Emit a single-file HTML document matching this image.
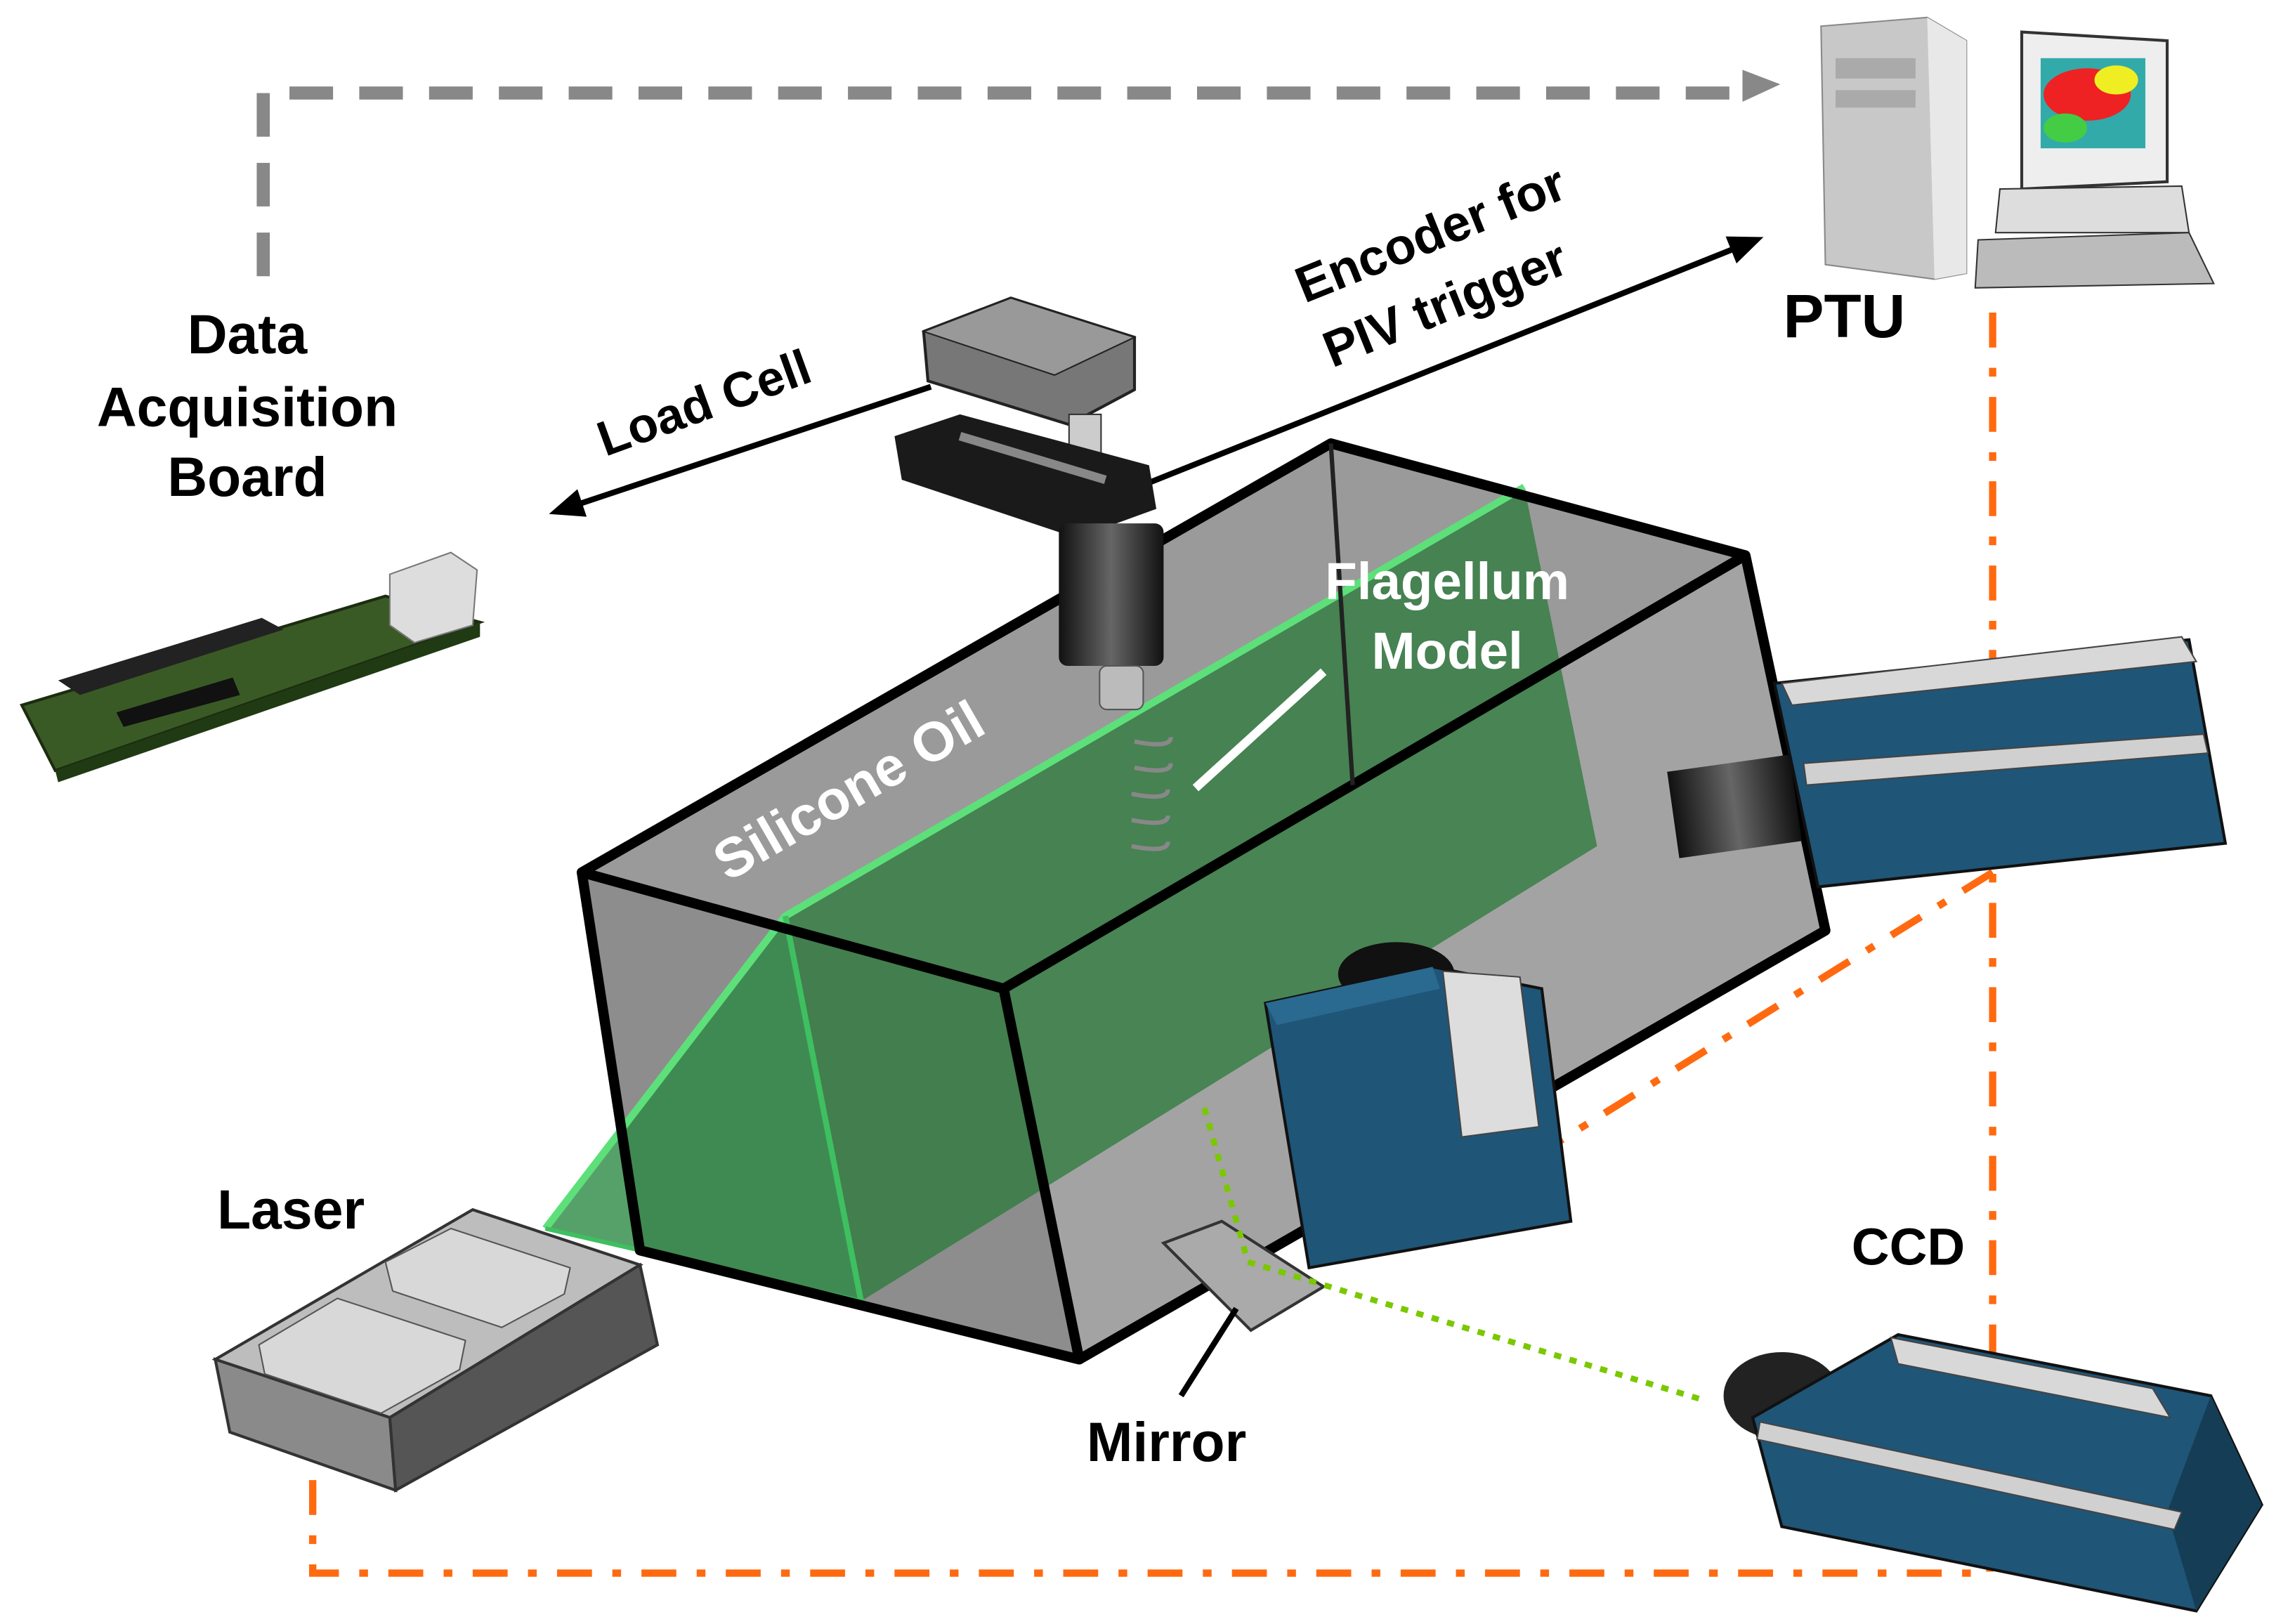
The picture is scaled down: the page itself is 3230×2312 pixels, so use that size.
<!DOCTYPE html>
<html><head><meta charset="utf-8"><style>
html,body{margin:0;padding:0;background:#fff;}
svg{display:block;}
text{font-family:"Liberation Sans",Arial,sans-serif;font-weight:bold;}
</style></head><body>
<svg width="3230" height="2312" viewBox="0 0 1560 1117" preserveAspectRatio="none" xmlns="http://www.w3.org/2000/svg">
<defs>
<marker id="ah" markerWidth="6" markerHeight="5" refX="4" refY="2.5" orient="auto" markerUnits="strokeWidth"><path d="M0,0 L6,2.5 L0,5 Z" fill="#000"/></marker>
<linearGradient id="cyl" x1="0" x2="1"><stop offset="0" stop-color="#111"/><stop offset=".5" stop-color="#666"/><stop offset="1" stop-color="#111"/></linearGradient>
</defs>

<path d="M181,190 V64 H1205" fill="none" stroke="#888" stroke-width="9" stroke-dasharray="30,18"/>
<path d="M1198,48 L1224,58 L1198,70 Z" fill="#888"/>

<g fill="none" stroke="#ff6a10" stroke-width="5" stroke-dasharray="24,14,6,14">
<path d="M1370,215 V935"/>
<path d="M1370,600 L1072,785"/>
<path d="M215,1018 V1082 H1368 V1045"/>
</g>

<text x="170" y="243" font-size="38" text-anchor="middle">Data</text>
<text x="170" y="293" font-size="38" text-anchor="middle">Acquisition</text>
<text x="170" y="341" font-size="38" text-anchor="middle">Board</text>

<polygon points="15,485 265,410 330,428 38,530" fill="#3a5a25" stroke="#1c2c10" stroke-width="2"/>
<polygon points="38,530 330,428 330,438 40,538" fill="#203a14"/>
<polygon points="40,468 180,425 195,433 55,478" fill="#222"/>
<polygon points="268,395 310,380 328,392 325,430 285,442 268,430" fill="#ddd" stroke="#777"/>
<polygon points="80,490 160,466 165,478 85,500" fill="#111"/>

<line x1="640" y1="266" x2="385" y2="351" stroke="#000" stroke-width="4" marker-end="url(#ah)"/>
<text x="488" y="288" font-size="34" text-anchor="middle" transform="rotate(-20 488 288)">Load Cell</text>
<line x1="790" y1="332" x2="1205" y2="166" stroke="#000" stroke-width="4" marker-end="url(#ah)"/>
<text x="988" y="172" font-size="35" text-anchor="middle" transform="rotate(-22 988 172)">Encoder for</text>
<text x="998" y="220" font-size="35" text-anchor="middle" transform="rotate(-22 998 220)">PIV trigger</text>

<polygon points="1252,18 1325,12 1352,28 1352,188 1330,192 1255,182" fill="#c8c8c8" stroke="#888"/>
<polygon points="1325,12 1352,28 1352,188 1330,192" fill="#e8e8e8"/>
<rect x="1262" y="40" width="55" height="14" fill="#aaa"/>
<rect x="1262" y="62" width="55" height="12" fill="#aaa"/>
<polygon points="1390,22 1490,28 1490,125 1390,130" fill="#eee" stroke="#333" stroke-width="2"/>
<rect x="1403" y="40" width="72" height="62" fill="#3aa"/>
<ellipse cx="1435" cy="65" rx="30" ry="18" fill="#e22"/><ellipse cx="1420" cy="88" rx="15" ry="10" fill="#4c4"/><ellipse cx="1455" cy="55" rx="15" ry="10" fill="#ee2"/>
<polygon points="1375,130 1500,128 1505,160 1372,160" fill="#ddd" stroke="#333"/>
<polygon points="1360,165 1505,160 1522,195 1358,198" fill="#bbb" stroke="#333"/>
<text x="1268" y="232" font-size="42" text-anchor="middle">PTU</text>

<polygon points="400,600 915,305 1200,382 690,680" fill="#9a9a9a"/>
<polygon points="400,600 690,680 742,935 440,860" fill="#8d8d8d"/>
<polygon points="690,680 1200,382 1255,640 742,935" fill="#a3a3a3"/>
<polygon points="540,630 1048,335 1098,582 592,895" fill="#2a7a3a" opacity=".75"/>
<polygon points="375,845 540,630 592,895" fill="#2c8a44" opacity=".8"/>
<polyline points="375,845 540,630 1048,335" fill="none" stroke="#5de07a" stroke-width="5"/>
<line x1="540" y1="630" x2="592" y2="895" stroke="#3ec060" stroke-width="4"/>
<line x1="375" y1="845" x2="592" y2="895" stroke="#3ec060" stroke-width="3"/>
<g stroke="#000" stroke-width="7" fill="none" stroke-linejoin="round">
<polygon points="400,600 915,305 1200,382 690,680"/>
<polyline points="400,600 440,860 742,935 1255,640 1200,382"/>
<line x1="690" y1="680" x2="742" y2="935"/>
</g>
<g stroke="#222" stroke-width="3" fill="none"><line x1="915" y1="305" x2="930" y2="540"/></g>

<polygon points="635,228 695,205 780,232 780,268 735,292 638,262" fill="#777" stroke="#222" stroke-width="2"/>
<polygon points="635,228 695,205 780,232 725,258" fill="#999" stroke="#222"/>
<rect x="735" y="285" width="22" height="40" fill="#ccc" stroke="#333"/>
<path d="M615,300 L660,285 L790,320 L795,350 L740,370 L620,330 Z" fill="#1a1a1a"/>
<path d="M660,300 L760,330" stroke="#888" stroke-width="6"/>
<rect x="728" y="360" width="72" height="98" rx="6" fill="url(#cyl)"/>
<rect x="756" y="458" width="30" height="30" rx="5" fill="#bbb" stroke="#555"/>
<g fill="none" stroke="#888" stroke-width="3">
<path d="M780,510 q25,5 25,-3"/><path d="M780,528 q25,5 25,-3"/><path d="M778,546 q25,5 25,-3"/><path d="M778,564 q25,5 25,-3"/><path d="M778,582 q25,5 25,-3"/>
</g>
<line x1="822" y1="542" x2="910" y2="462" stroke="#fff" stroke-width="6"/>
<text x="995" y="412" font-size="36" fill="#fff" text-anchor="middle">Flagellum</text>
<text x="995" y="460" font-size="36" fill="#fff" text-anchor="middle">Model</text>
<text x="590" y="555" font-size="38" fill="#fff" text-anchor="middle" transform="rotate(-30 590 555)">Silicone Oil</text>

<rect x="1150" y="525" width="85" height="60" fill="url(#cyl)" transform="rotate(-8 1190 555)"/>
<polygon points="1220,470 1505,440 1530,580 1250,610" fill="#1f5577" stroke="#111" stroke-width="2"/>
<polygon points="1225,470 1500,438 1510,455 1232,485" fill="#d8d8d8" stroke="#444"/>
<polygon points="1240,525 1515,505 1518,518 1242,540" fill="#d0d0d0" stroke="#444"/>
<ellipse cx="960" cy="670" rx="40" ry="22" fill="#111"/>
<polygon points="870,690 985,665 1060,680 1080,840 900,872" fill="#1f5577" stroke="#111" stroke-width="2"/>
<polygon points="992,668 1045,672 1058,775 1005,782" fill="#ddd" stroke="#444"/>
<polygon points="870,690 985,665 990,680 878,705" fill="#2a6a90"/>

<polygon points="800,855 840,840 910,885 860,915" fill="#aaa" stroke="#333" stroke-width="2"/>
<g stroke="#7ac800" stroke-width="4" stroke-dasharray="5,6" fill="none">
<line x1="828" y1="762" x2="858" y2="868"/>
<line x1="858" y1="868" x2="1168" y2="962"/>
</g>
<line x1="850" y1="900" x2="812" y2="960" stroke="#000" stroke-width="4"/>
<text x="802" y="1005" font-size="38" text-anchor="middle">Mirror</text>

<ellipse cx="1225" cy="960" rx="40" ry="30" fill="#222"/>
<polygon points="1205,975 1305,918 1520,960 1555,1035 1510,1108 1225,1050" fill="#1f5577" stroke="#111" stroke-width="2"/>
<polygon points="1490,1040 1520,960 1555,1035 1510,1108" fill="#153d55"/>
<polygon points="1300,920 1480,955 1492,975 1305,938" fill="#d8d8d8" stroke="#444"/>
<polygon points="1210,978 1500,1040 1495,1052 1208,990" fill="#d0d0d0" stroke="#444"/>
<text x="1312" y="870" font-size="36" text-anchor="middle">CCD</text>

<text x="200" y="845" font-size="38" text-anchor="middle">Laser</text>
<polygon points="148,935 325,832 440,870 268,975" fill="#bdbdbd" stroke="#333" stroke-width="2"/>
<polygon points="148,935 268,975 272,1025 158,985" fill="#8a8a8a" stroke="#333" stroke-width="2"/>
<polygon points="268,975 440,870 452,925 272,1025" fill="#555" stroke="#333" stroke-width="2"/>
<polygon points="265,868 310,845 392,872 388,890 345,913 270,888" fill="#d8d8d8" stroke="#555" stroke-linejoin="round"/>
<polygon points="178,925 232,893 320,922 316,942 262,972 182,945" fill="#d8d8d8" stroke="#555" stroke-linejoin="round"/>
</svg>
</body></html>
